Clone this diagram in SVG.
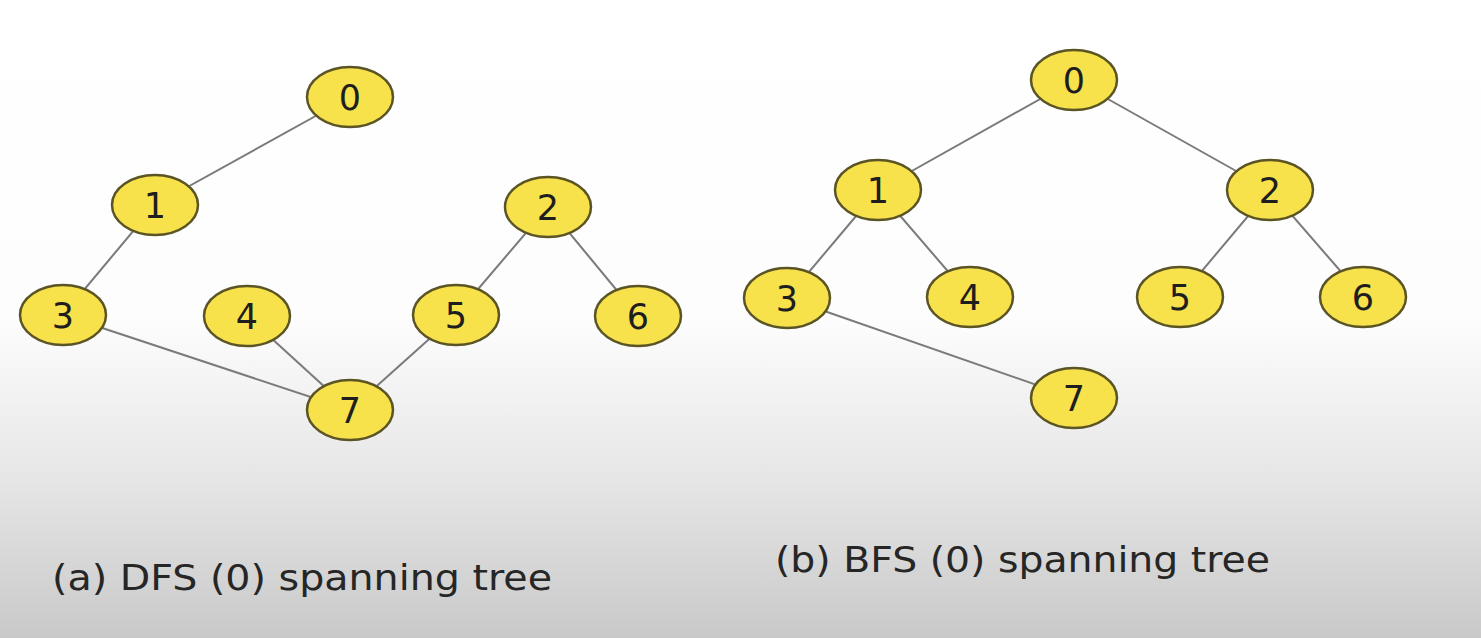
<svg xmlns="http://www.w3.org/2000/svg" width="1481" height="638" viewBox="0 0 1481 638">
<defs>
<linearGradient id="bg" x1="0" y1="0" x2="0" y2="1">
<stop offset="0" stop-color="#ffffff"/>
<stop offset="0.5" stop-color="#fdfdfd"/>
<stop offset="0.75" stop-color="#e6e6e6"/>
<stop offset="1" stop-color="#c9c9c9"/>
</linearGradient>
<style>
.node ellipse{fill:#f8e24c;stroke:#5b5424;stroke-width:2.5}
.node text{font-family:"DejaVu Sans","Liberation Sans",sans-serif;font-size:35px;fill:#1e1e1e;text-anchor:middle}
.edges line{stroke:#7a7a7a;stroke-width:2}
.cap{font-family:"DejaVu Sans","Liberation Sans",sans-serif;font-size:35px;fill:#262626}
</style>
</defs>
<rect x="0" y="0" width="1481" height="638" fill="url(#bg)"/>
<g id="edges-dfs" class="edges">
<line x1="350" y1="97" x2="155" y2="205"/>
<line x1="155" y1="205" x2="63" y2="315"/>
<line x1="63" y1="315" x2="350" y2="410"/>
<line x1="247" y1="316" x2="350" y2="410"/>
<line x1="456" y1="315" x2="350" y2="410"/>
<line x1="548" y1="207" x2="456" y2="315"/>
<line x1="548" y1="207" x2="638" y2="316"/>
</g>
<g id="edges-bfs" class="edges">
<line x1="1074" y1="80" x2="878" y2="190"/>
<line x1="1074" y1="80" x2="1270" y2="190"/>
<line x1="878" y1="190" x2="787" y2="298"/>
<line x1="878" y1="190" x2="970" y2="297"/>
<line x1="1270" y1="190" x2="1180" y2="297"/>
<line x1="1270" y1="190" x2="1363" y2="297"/>
<line x1="787" y1="298" x2="1074" y2="398"/>
</g>
<g id="dfs-0" class="node"><ellipse cx="350" cy="97" rx="43" ry="30"/><text x="350" y="110">0</text></g>
<g id="dfs-1" class="node"><ellipse cx="155" cy="205" rx="43" ry="30"/><text x="155" y="218">1</text></g>
<g id="dfs-2" class="node"><ellipse cx="548" cy="207" rx="43" ry="30"/><text x="548" y="220">2</text></g>
<g id="dfs-3" class="node"><ellipse cx="63" cy="315" rx="43" ry="30"/><text x="63" y="328">3</text></g>
<g id="dfs-4" class="node"><ellipse cx="247" cy="316" rx="43" ry="30"/><text x="247" y="329">4</text></g>
<g id="dfs-5" class="node"><ellipse cx="456" cy="315" rx="43" ry="30"/><text x="456" y="328">5</text></g>
<g id="dfs-6" class="node"><ellipse cx="638" cy="316" rx="43" ry="30"/><text x="638" y="329">6</text></g>
<g id="dfs-7" class="node"><ellipse cx="350" cy="410" rx="43" ry="30"/><text x="350" y="423">7</text></g>
<g id="bfs-0" class="node"><ellipse cx="1074" cy="80" rx="43" ry="30"/><text x="1074" y="93">0</text></g>
<g id="bfs-1" class="node"><ellipse cx="878" cy="190" rx="43" ry="30"/><text x="878" y="203">1</text></g>
<g id="bfs-2" class="node"><ellipse cx="1270" cy="190" rx="43" ry="30"/><text x="1270" y="203">2</text></g>
<g id="bfs-3" class="node"><ellipse cx="787" cy="298" rx="43" ry="30"/><text x="787" y="311">3</text></g>
<g id="bfs-4" class="node"><ellipse cx="970" cy="297" rx="43" ry="30"/><text x="970" y="310">4</text></g>
<g id="bfs-5" class="node"><ellipse cx="1180" cy="297" rx="43" ry="30"/><text x="1180" y="310">5</text></g>
<g id="bfs-6" class="node"><ellipse cx="1363" cy="297" rx="43" ry="30"/><text x="1363" y="310">6</text></g>
<g id="bfs-7" class="node"><ellipse cx="1074" cy="398" rx="43" ry="30"/><text x="1074" y="411">7</text></g>
<text class="cap" x="52" y="590" textLength="500" lengthAdjust="spacingAndGlyphs">(a) DFS (0) spanning tree</text>
<text class="cap" x="775" y="572" textLength="495" lengthAdjust="spacingAndGlyphs">(b) BFS (0) spanning tree</text>
</svg>
